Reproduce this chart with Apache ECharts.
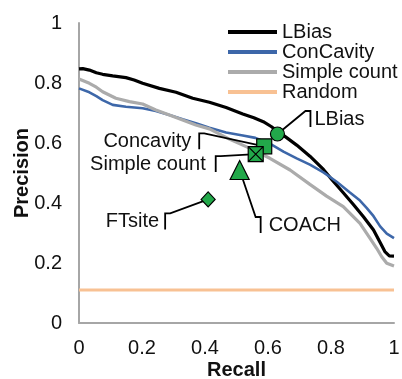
<!DOCTYPE html>
<html>
<head>
<meta charset="utf-8">
<script src="https://cdn.jsdelivr.net/npm/echarts@6/dist/echarts.min.js"></script>
<style>
  html, body { margin: 0; padding: 0; background: #fff; }
  #main { width: 402px; height: 379px; }
</style>
</head>
<body>
<div id="main"></div>
<script>
// precision-recall curves, [recall, precision]
const lbiasCurve = [
  [0, 0.847], [0.012, 0.848], [0.033, 0.843], [0.055, 0.834], [0.075, 0.829],
  [0.107, 0.824], [0.149, 0.818], [0.175, 0.81], [0.202, 0.799], [0.255, 0.782],
  [0.308, 0.769], [0.361, 0.749], [0.414, 0.736], [0.467, 0.718], [0.52, 0.697],
  [0.555, 0.684], [0.585, 0.671], [0.61, 0.655], [0.63, 0.64], [0.659, 0.618],
  [0.691, 0.593], [0.733, 0.556], [0.776, 0.512], [0.805, 0.475], [0.839, 0.434],
  [0.871, 0.395], [0.903, 0.354], [0.935, 0.31], [0.956, 0.268], [0.971, 0.238],
  [0.985, 0.224], [1, 0.223]
];
const concavityCurve = [
  [0, 0.782], [0.033, 0.769], [0.055, 0.756], [0.075, 0.743], [0.107, 0.727],
  [0.149, 0.721], [0.202, 0.716], [0.244, 0.707], [0.287, 0.693], [0.329, 0.679],
  [0.371, 0.666], [0.414, 0.651], [0.467, 0.635], [0.52, 0.625], [0.56, 0.617],
  [0.606, 0.598], [0.649, 0.571], [0.691, 0.549], [0.733, 0.528], [0.776, 0.502],
  [0.818, 0.471], [0.86, 0.435], [0.892, 0.408], [0.913, 0.384], [0.935, 0.356],
  [0.956, 0.322], [0.977, 0.298], [1, 0.283]
];
const simpleCountCurve = [
  [0, 0.813], [0.033, 0.799], [0.055, 0.786], [0.075, 0.771], [0.117, 0.749],
  [0.16, 0.738], [0.202, 0.73], [0.244, 0.71], [0.287, 0.693], [0.329, 0.677],
  [0.371, 0.66], [0.414, 0.647], [0.479, 0.612], [0.543, 0.582], [0.606, 0.549],
  [0.67, 0.51], [0.733, 0.462], [0.786, 0.423], [0.839, 0.388], [0.892, 0.332],
  [0.924, 0.282], [0.945, 0.249], [0.961, 0.221], [0.977, 0.199], [1, 0.19]
];
const randomCurve = [[0, 0.11], [1, 0.11]];

const curveNames = ['LBias', 'ConCavity', 'Simple count', 'Random'];

// single operating points of each method
const methods = ['LBias', 'Concavity', 'Simple count', 'COACH', 'FTsite'];
const methodRecall = [0.63, 0.588, 0.561, 0.51, 0.41];
const methodPrecision = [0.63, 0.589, 0.563, 0.51, 0.412];

const axisTicks = [0, 0.2, 0.4, 0.6, 0.8, 1];

// callout placement (pixels from the marker to the top of the bracket)
const calloutLayout = [
  { dx: 33, dy: -23, side: 'right', gap: 4 },
  { dx: -65, dy: -13, side: 'left', gap: 8 },
  { dx: -40, dy: 2, side: 'left', gap: 10 },
  { dx: 21, dy: 47, side: 'right', gap: 8 },
  { dx: -43, dy: 14, side: 'left', gap: 6 }
];

const markerSymbols = [
  { symbol: 'circle', size: 14 },
  { symbol: 'rect', size: 15 },
  { symbol: 'path://M0,0H10V10H0Z M0,0L10,10 M10,0L0,10', size: 15 },
  { symbol: 'triangle', size: [19, 19] },
  { symbol: 'diamond', size: [14, 15] }
];

const green = '#22A84A';
const font = '"Liberation Sans", Arial, sans-serif';
const fontSize = 20;

const chart = echarts.init(document.getElementById('main'));

const lineSeries = [
  { data: lbiasCurve, color: '#000000', width: 3.2 },
  { data: concavityCurve, color: '#3D67A9', width: 2.6 },
  { data: simpleCountCurve, color: '#ABABAB', width: 3.2 },
  { data: randomCurve, color: '#F8C193', width: 3 }
].map((s, i) => ({
  name: curveNames[i],
  type: 'line',
  data: s.data,
  color: s.color,
  symbol: 'none',
  lineStyle: { width: s.width, color: s.color },
  z: 2,
  silent: true
}));

const pointSeries = methods.map((m, i) => ({
  name: m + ' point',
  type: 'scatter',
  data: [[methodRecall[i], methodPrecision[i]]],
  symbol: markerSymbols[i].symbol,
  symbolSize: markerSymbols[i].size,
  itemStyle: { color: green, borderColor: '#000', borderWidth: 1.2, opacity: 1 },
  z: 5,
  silent: true
}));

const calloutSeries = {
  name: 'callouts',
  type: 'custom',
  coordinateSystem: 'cartesian2d',
  silent: true,
  z: 4,
  data: methods.map((m, i) => [methodRecall[i], methodPrecision[i], i]),
  encode: { x: 0, y: 1 },
  renderItem: function (params, api) {
    const p = api.coord([api.value(0), api.value(1)]);
    const idx = api.value(2);
    const L = calloutLayout[idx];
    const top = [p[0] + L.dx, p[1] + L.dy];
    const stub = L.side === 'right' ? [top[0] - 5, top[1]] : [top[0] + 5, top[1]];
    const bottom = [top[0], top[1] + 16];
    return {
      type: 'group',
      children: [
        {
          type: 'polyline',
          shape: { points: [p, stub, top, bottom] },
          style: { stroke: '#000', lineWidth: 1.8, fill: null }
        },
        {
          type: 'text',
          style: {
            text: methods[idx],
            x: L.side === 'right' ? top[0] + L.gap : top[0] - L.gap,
            y: top[1] + 8,
            align: L.side === 'right' ? 'left' : 'right',
            verticalAlign: 'middle',
            font: fontSize + 'px ' + font,
            fill: '#111'
          }
        }
      ]
    };
  }
};

const option = {
  animation: false,
  backgroundColor: '#fff',
  textStyle: { fontFamily: font },
  grid: { left: 79, right: 8, top: 23, bottom: 56, outerBoundsMode: 'none' },
  legend: {
    data: curveNames,
    orient: 'vertical',
    left: 228,
    top: 22,
    padding: 0,
    itemGap: 0,
    itemWidth: 49,
    itemHeight: 4,
    icon: 'rect',
    selectedMode: false,
    textStyle: { fontSize: fontSize, color: '#111', lineHeight: 20, fontFamily: font }
  },
  xAxis: {
    type: 'value',
    min: axisTicks[0],
    max: axisTicks[axisTicks.length - 1],
    interval: 0.2,
    name: 'Recall',
    nameLocation: 'middle',
    nameGap: 37,
    nameMoveOverlap: false,
    nameTextStyle: { fontSize: fontSize, fontWeight: 'bold', color: '#111', fontFamily: font },
    axisLine: { show: true, lineStyle: { color: '#A6A6A6', width: 2 } },
    axisTick: { show: false },
    splitLine: { show: false },
    axisLabel: { fontSize: fontSize, color: '#111', margin: 15, fontFamily: font }
  },
  yAxis: {
    type: 'value',
    min: axisTicks[0],
    max: axisTicks[axisTicks.length - 1],
    interval: 0.2,
    name: 'Precision',
    nameLocation: 'middle',
    nameGap: 47,
    nameMoveOverlap: false,
    nameTextStyle: { fontSize: fontSize, fontWeight: 'bold', color: '#111', fontFamily: font },
    axisLine: { show: true, lineStyle: { color: '#A6A6A6', width: 2 } },
    axisTick: { show: false },
    splitLine: { show: false },
    axisLabel: { fontSize: fontSize, color: '#111', margin: 17, fontFamily: font }
  },
  series: lineSeries.concat([calloutSeries], pointSeries)
};

chart.setOption(option);
</script>
</body>
</html>
